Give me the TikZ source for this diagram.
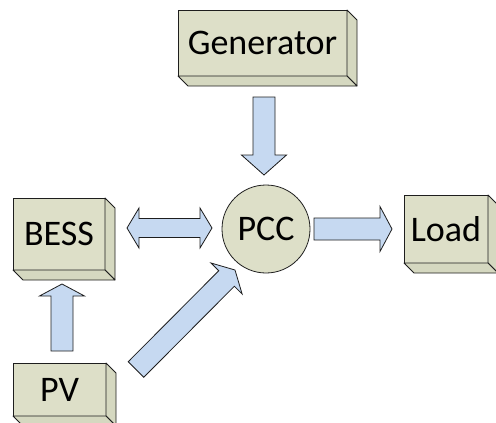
\documentclass[tikz,border=0pt]{standalone}
\usepackage{fontspec}
\setmainfont{Carlito}
\usetikzlibrary{calc}
\definecolor{boxfill}{RGB}{221,223,200}
\definecolor{boxside}{RGB}{213,216,192}
\definecolor{arrfill}{RGB}{198,217,241}
\definecolor{edge}{RGB}{30,30,30}
\tikzset{
  cubebox/.style={draw=edge, line width=0.8pt, fill=boxfill, inner sep=0pt, outer sep=0pt,
    font=\fontsize{36}{40}\selectfont},
  sideface/.style={draw=edge, line width=0.8pt, fill=boxside, line join=round},
  arrowshape/.style={draw=edge, line width=0.8pt, fill=arrfill, line join=miter},
  blk/.style n args={3}{to path={let \p1=(\tikztostart), \p2=(\tikztotarget),
      \p3=($(\p2)!#3!(\p1)$) in
      ($(\p1)!#1!90:(\p2)$) -- ($(\p3)!#1!90:(\p2)$) -- ($(\p3)!#2!90:(\p2)$) -- (\p2)
      -- ($(\p3)!#2!-90:(\p2)$) -- ($(\p3)!#1!-90:(\p2)$) -- ($(\p1)!#1!-90:(\p2)$) -- cycle}},
  dblk/.style n args={3}{to path={let \p1=(\tikztostart), \p2=(\tikztotarget),
      \p3=($(\p2)!#3!(\p1)$), \p4=($(\p1)!#3!(\p2)$) in
      (\p1) -- ($(\p4)!#2!90:(\p2)$) -- ($(\p4)!#1!90:(\p2)$) -- ($(\p3)!#1!90:(\p2)$)
      -- ($(\p3)!#2!90:(\p2)$) -- (\p2) -- ($(\p3)!#2!-90:(\p2)$) -- ($(\p3)!#1!-90:(\p2)$)
      -- ($(\p4)!#1!-90:(\p2)$) -- ($(\p4)!#2!-90:(\p2)$) -- cycle}},
}
\begin{document}
\begin{tikzpicture}[x=1pt,y=-1pt]
\useasboundingbox (0,0) rectangle (496,423);
% boxes (front faces)
\node[cubebox, minimum width=169pt, minimum height=66pt] (gen) at (262.5,43) {Generator};
\node[cubebox, minimum width=92pt, minimum height=72pt] (bess) at (59,234) {BESS};
\node[cubebox, minimum width=84pt, minimum height=68pt] (load) at (446,229) {Load};
\node[cubebox, minimum width=93pt, minimum height=53pt] (pv) at (59.5,389.5) {PV};
\foreach \n in {gen,bess,load,pv}{
  \filldraw[sideface] (\n.north east) -- ++(10,10) -- ($(\n.south east)+(10pt,-10pt)$) -- (\n.south east) -- cycle;
  \filldraw[sideface] (\n.south west) -- ++(10,10) -- ($(\n.south east)+(10pt,-10pt)$) -- (\n.south east) -- cycle;
}
% PCC
\node[cubebox, circle, minimum size=88pt] (pcc) at (266,229) {PCC};
% arrow end points
\coordinate (g1) at (264,97);   \coordinate (g2) at (264,175);
\coordinate (b1) at (127,228);  \coordinate (b2) at (212,228);
\coordinate (l1) at (314,229);  \coordinate (l2) at (392,229);
\coordinate (p1) at (62,351);   \coordinate (p2) at (62,284);
\coordinate (d1) at (136,369.5);\coordinate (d2) at (235,270);
% block arrows
\draw[arrowshape, blk={11pt}{22.5pt}{20pt}] (g1) to (g2);
\draw[arrowshape, dblk={9.5pt}{20pt}{12pt}] (b1) to (b2);
\draw[arrowshape, blk={11pt}{22.5pt}{12pt}] (l1) to (l2);
\draw[arrowshape, blk={11pt}{22.5pt}{12pt}] (p1) to (p2);
\draw[arrowshape, blk={11pt}{22pt}{12pt}] (d1) to (d2);
\end{tikzpicture}
\end{document}
